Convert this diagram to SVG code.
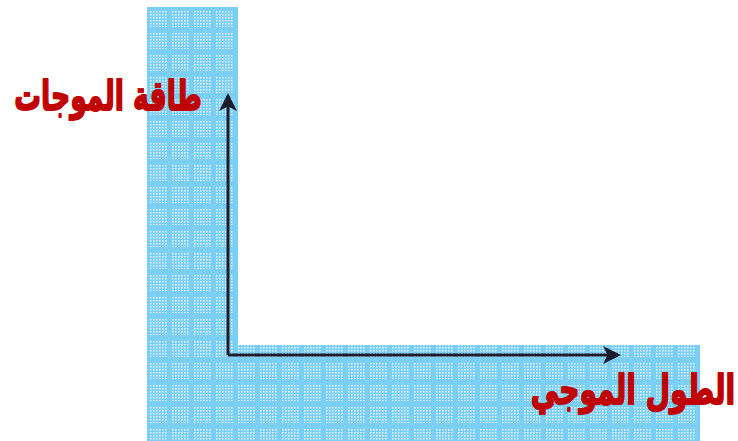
<svg xmlns="http://www.w3.org/2000/svg" width="738" height="441" viewBox="0 0 738 441">
<defs>
<pattern id="dots" x="147" y="7" width="3" height="3" patternUnits="userSpaceOnUse">
<rect x="0" y="0" width="1.5" height="1.5" fill="#e3f5fd"/>
</pattern>
<pattern id="grid" x="150" y="10" width="22" height="22" patternUnits="userSpaceOnUse">
<rect x="0" y="0" width="17" height="17" fill="url(#dots)"/>
</pattern>
<marker id="ah" markerWidth="6" markerHeight="6" refX="5" refY="3" orient="auto" markerUnits="strokeWidth">
<path d="M0,0 L6,3 L0,6 L1.5,3 Z" fill="#1c1c2c"/>
</marker>
<style>
.bg{fill:#7ccff4}
.lbl{font-family:"DejaVu Sans",sans-serif;font-weight:bold;fill:#c00000;stroke:#c00000;stroke-width:1.6;stroke-linejoin:round;font-size:36px}
.ax{stroke:#1c1c2c;stroke-width:3;fill:none}
</style>
</defs>
<rect width="738" height="441" fill="#ffffff"/>
<g id="grid-paper">
<path class="bg" d="M147,7 H238 V345 H700 V441 H147 Z"/>
<path d="M147,7 H238 V345 H700 V441 H147 Z" fill="url(#grid)"/>
</g>
<g id="connectors">
<path class="ax" d="M228,355 V96" marker-end="url(#ah)"/>
<path class="ax" d="M228,355 H618" marker-end="url(#ah)"/>
</g>
<g id="label-y">
<text class="lbl" text-anchor="middle" transform="translate(108,110) scale(0.74,1.15)">طاقة الموجات</text>
</g>
<g id="label-x">
<text class="lbl" text-anchor="middle" transform="translate(633,404) scale(0.78,1.15)">الطول الموجي</text>
</g>
</svg>
